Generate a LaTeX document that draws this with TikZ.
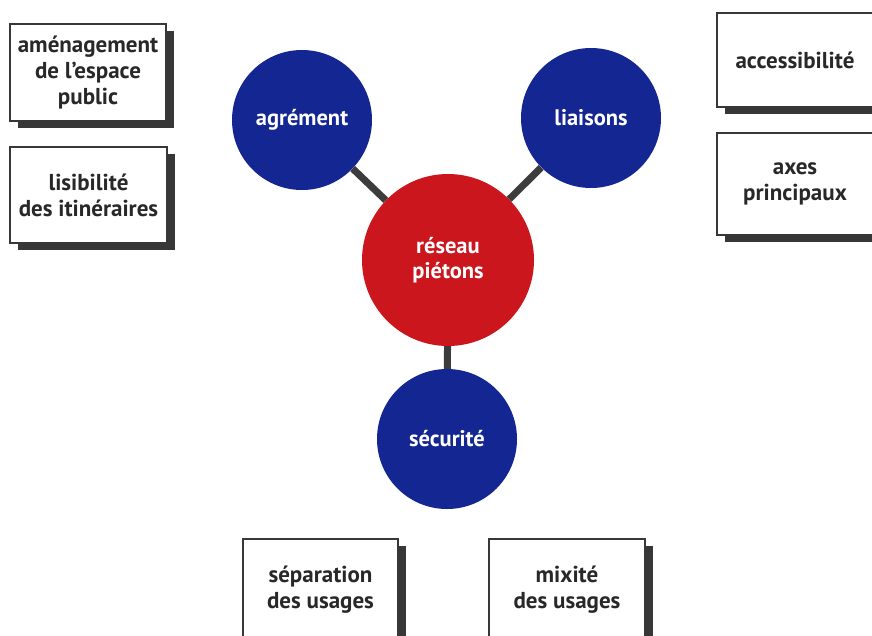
\documentclass[tikz,border=0pt]{standalone}
\usepackage{fontspec}
\setmainfont{PT Sans}
\usetikzlibrary{shadows}
\definecolor{circblue}{RGB}{20,38,145}
\definecolor{circred}{RGB}{203,22,30}
\definecolor{linkgray}{RGB}{60,60,60}
\definecolor{boxgray}{RGB}{55,55,55}
\definecolor{textgray}{RGB}{40,40,40}
\begin{document}
\begin{tikzpicture}[x=1pt,y=-1pt,
  tbox/.style={draw=boxgray, line width=1.4pt, fill=white, align=center,
    text=textgray, font=\fontsize{23}{26}\selectfont\bfseries,
    minimum width=156pt, minimum height=96pt, inner sep=0pt,
    drop shadow={shadow xshift=8pt, shadow yshift=-7pt, fill=boxgray, opacity=1}},
  bcirc/.style={circle, fill=circblue, text=white, minimum size=140pt, inner sep=0pt,
    align=center, font=\fontsize{22.5}{25}\selectfont\bfseries},
  rcirc/.style={bcirc, fill=circred, minimum size=172pt},
  link/.style={draw=linkgray, line width=7pt}]
\clip (0,0) rectangle (872,635);
\fill[white] (0,0) rectangle (872,635);
% boxes
\node[tbox, minimum height=97pt] (amen) at (88,72.5) {aménagement\\de l’espace\\public};
\node[tbox, minimum width=157pt] (lisi) at (88.5,195) {lisibilité\\des itinéraires};
\node[tbox, minimum height=94pt] (acce) at (795,60) {accessibilité};
\node[tbox, minimum height=102pt] (axes) at (795,184) {axes\\principaux};
\node[tbox, minimum width=155pt, minimum height=102pt] (sepa) at (320.5,590) {séparation\\des usages};
\node[tbox, minimum height=102pt] (mixi) at (567,590) {mixité\\des usages};
% circles
\node[bcirc] (agre) at (302,120) {agrément};
\node[bcirc] (liai) at (591,118) {liaisons};
\node[rcirc] (rese) at (448,260) {réseau\\piétons};
\node[bcirc] (secu) at (447,439) {sécurité};
% connectors
\draw[link] (agre) -- (rese);
\draw[link] (liai) -- (rese);
\draw[link] (rese) -- (secu);
\end{tikzpicture}
\end{document}
